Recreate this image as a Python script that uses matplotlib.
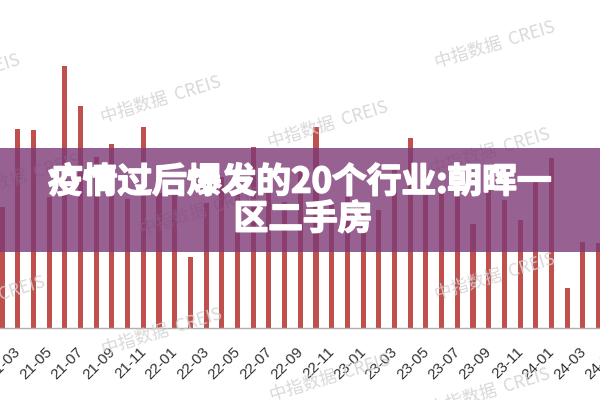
import matplotlib
matplotlib.use("Agg")
import matplotlib.pyplot as plt
import matplotlib.patheffects as pe
from matplotlib.patches import Rectangle

# Monthly values (arbitrary units), 2021-02 .. 2024-04
months = ["21-02", "21-03", "21-04", "21-05", "21-06", "21-07", "21-08", "21-09",
          "21-10", "21-11", "21-12", "22-01", "22-02", "22-03", "22-04", "22-05",
          "22-06", "22-07", "22-08", "22-09", "22-10", "22-11", "22-12", "23-01",
          "23-02", "23-03", "23-04", "23-05", "23-06", "23-07", "23-08", "23-09",
          "23-10", "23-11", "23-12", "24-01", "24-02", "24-03", "24-04"]
values = [121, 199, 198, 131, 262, 222, 171, 184, 129, 201, 135, 135, 71, 125,
          151, 135, 181, 141, 126, 161, 201, 125, 131, 125, 118, 161, 190, 133,
          138, 133, 104, 141, 128, 108, 146, 170, 40, 86, 85]
tick_labels = ["21-03", "21-05", "21-07", "21-09", "21-11", "22-01", "22-03",
               "22-05", "22-07", "22-09", "22-11", "23-01", "23-03", "23-05",
               "23-07", "23-09", "23-11", "24-01", "24-03", "24-05"]
title_lines = ["疫情过后爆发的20个行业:朝晖一", "区二手房"]
watermark = "中指数据  CREIS"

plt.rcParams['font.family'] = ['Noto Sans CJK SC', 'DejaVu Sans']

fig = plt.figure(figsize=(6, 4), dpi=100)
ax = fig.add_axes([0, 0.18, 1, 0.82])

x = list(range(len(values)))
ax.bar(x, values, width=0.32, color="#c0504d", zorder=2)
ax.set_xlim(-2 / 15.7, 598 / 15.7)
ax.set_ylim(0, 328)

for s in ["top", "left", "right"]:
    ax.spines[s].set_visible(False)
ax.spines["bottom"].set_color("#b0b0b0")
ax.spines["bottom"].set_linewidth(1.0)
ax.set_yticks([])
ax.set_xticks([])

# x labels every two months (including the partly visible last one)
for lab in tick_labels:
    if lab in months:
        xi = months.index(lab)
    else:
        xi = len(months)  # month after the last bar
    ax.annotate(lab, xy=(xi, 0), xycoords=("data", "axes fraction"),
                xytext=(4, -12), textcoords="offset points",
                rotation=45, ha="right", va="top", fontsize=11,
                color="#333333", family=["Liberation Sans", "DejaVu Sans"],
                annotation_clip=False)

# watermarks
wm_positions = [(-40, 78), (161, 100), (495, 45), (328, 125), (490, 152),
                (-15, 300), (162, 332), (495, 277), (330, 378), (490, 392),
                (20, 178), (200, 212)]
for (px, py) in wm_positions:
    fig.text(px / 600, 1 - py / 400, watermark, rotation=17, fontsize=12.5,
             color="#d2d2d2", alpha=0.85, ha="center", va="center", zorder=3)

# banner
fig.patches.append(Rectangle((0, 1 - 252 / 400), 1, 104 / 400,
                             transform=fig.transFigure, facecolor="#7d3a76",
                             alpha=0.8, edgecolor="none", zorder=5))
bold = [pe.withStroke(linewidth=1.2, foreground="white")]
fig.text(0.5, 1 - 182 / 400, title_lines[0], ha="center", va="center",
         fontsize=25, fontweight="bold", color="white", zorder=6,
         path_effects=bold)
fig.text(0.505, 1 - 219 / 400, title_lines[1], ha="center", va="center",
         fontsize=25, fontweight="bold", color="white", zorder=6,
         path_effects=bold)

fig.savefig("out.png", dpi=100)
